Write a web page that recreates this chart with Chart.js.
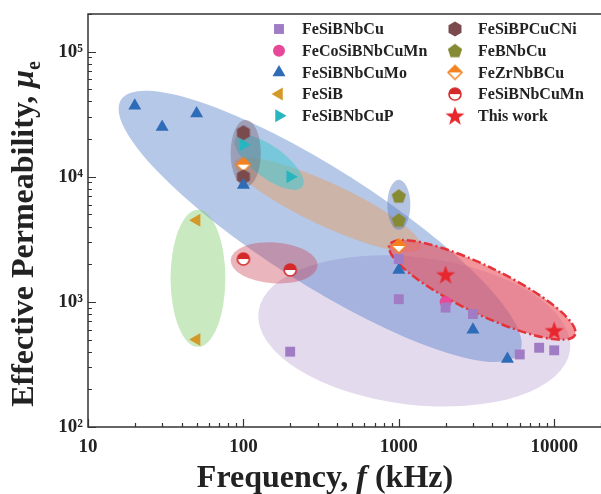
<!DOCTYPE html>
<html>
<head>
<meta charset="utf-8">
<script src="https://cdn.jsdelivr.net/npm/chart.js@4.4.0/dist/chart.umd.min.js"></script>
<style>
  html, body { margin: 0; padding: 0; background: #fff; }
  #wrap { width: 601px; height: 494px; }
</style>
</head>
<body>
<div id="wrap"><canvas id="chart" width="601" height="494"></canvas></div>
<script>
// --- data (frequency in kHz, effective permeability) ---
const seriesNames = ['FeSiBNbCu', 'FeCoSiBNbCuMn', 'FeSiBNbCuMo', 'FeSiB', 'FeSiBNbCuP',
  'FeSiBPCuCNi', 'FeBNbCu', 'FeZrNbBCu', 'FeSiBNbCuMn', 'This work'];

const freqFeSiBNbCu = [200, 1000, 1000, 2000, 3000, 6000, 8000, 10000];
const muFeSiBNbCu = [400, 1050, 2200, 900, 800, 380, 430, 410];
const freqFeCoSiBNbCuMn = [2000];
const muFeCoSiBNbCuMn = [1000];
const freqFeSiBNbCuMo = [20, 30, 50, 100, 1000, 3000, 5000];
const muFeSiBNbCuMo = [37000, 25000, 32000, 8600, 1800, 600, 350];
const freqFeSiB = [50, 50];
const muFeSiB = [4500, 500];
const freqFeSiBNbCuP = [100, 200];
const muFeSiBNbCuP = [18000, 10000];
const freqFeSiBPCuCNi = [100, 100];
const muFeSiBPCuCNi = [22500, 10000];
const freqFeBNbCu = [1000, 1000];
const muFeBNbCu = [7000, 4500];
const freqFeZrNbBCu = [100, 1000];
const muFeZrNbBCu = [12500, 2800];
const freqFeSiBNbCuMn = [100, 200];
const muFeSiBNbCuMn = [2200, 1800];
const freqThisWork = [2000, 10000];
const muThisWork = [1650, 590];

const xTicks = [10, 100, 1000, 10000];
const yTicks = [100, 1000, 10000, 100000];

// shaded regions: major-axis end points (kHz, mu) and relative thickness
const regionFrom = [[125, 832], [16.3, 41300], [51, 5445], [82.8, 2168], [87.9, 13180],
  [89.2, 20500], [103.5, 28600], [1000, 9465], [871, 2858]];
const regionTo = [[12650, 413], [5960, 391], [51, 437], [300, 1941], [1377, 2704],
  [240, 8318], [103.5, 8318], [1000, 3767], [13600, 545]];
const regionWidth = [0.47, 0.245, 0.4, 0.47, 0.21, 0.38, 0.45, 0.46, 0.23];

const regionFill = ['rgba(175,150,205,0.35)', 'rgba(80,125,200,0.42)', 'rgba(120,200,100,0.4)',
  'rgba(200,60,80,0.38)', 'rgba(225,160,105,0.5)', 'rgba(70,200,210,0.55)',
  'rgba(110,80,95,0.35)', 'rgba(90,125,190,0.45)', 'rgba(235,80,90,0.6)'];

const SERIF = "'Liberation Serif', 'Times New Roman', serif";
const INK = '#222';

// custom marker canvases
function makeMarker(size, draw) {
  const c = document.createElement('canvas');
  c.width = c.height = size;
  const g = c.getContext('2d');
  draw(g, size / 2);
  return c;
}
function polyPath(g, cx, cy, r, n, rot) {
  g.beginPath();
  for (let i = 0; i < n; i++) {
    const a = rot + i * 2 * Math.PI / n;
    const px = cx + r * Math.cos(a), py = cy + r * Math.sin(a);
    i ? g.lineTo(px, py) : g.moveTo(px, py);
  }
  g.closePath();
}
const hexMark = makeMarker(16, (g, c) => {
  polyPath(g, c, c, 7.5, 6, -Math.PI / 2);
  g.fillStyle = '#7b4a4d'; g.fill();
});
const pentMark = makeMarker(16, (g, c) => {
  polyPath(g, c, c + 0.5, 7.5, 5, -Math.PI / 2);
  g.fillStyle = '#868a33'; g.fill();
});
const halfDiamond = makeMarker(18, (g, c) => {
  const r = 7;
  g.beginPath(); g.moveTo(c, c - r); g.lineTo(c + r, c); g.lineTo(c - r, c); g.closePath();
  g.fillStyle = '#f5821f'; g.fill();
  g.beginPath(); g.moveTo(c - r, c); g.lineTo(c + r, c); g.lineTo(c, c + r); g.closePath();
  g.fillStyle = '#fff'; g.fill();
  g.beginPath(); g.moveTo(c, c - r); g.lineTo(c + r, c); g.lineTo(c, c + r); g.lineTo(c - r, c); g.closePath();
  g.strokeStyle = '#f5821f'; g.lineWidth = 1.5; g.stroke();
});
const halfCircle = makeMarker(16, (g, c) => {
  const r = 6;
  g.beginPath(); g.arc(c, c, r, 0, 2 * Math.PI); g.fillStyle = '#fff'; g.fill();
  g.beginPath(); g.arc(c, c, r, Math.PI, 2 * Math.PI); g.closePath();
  g.fillStyle = '#d42a2a'; g.fill();
  g.beginPath(); g.arc(c, c, r, 0, 2 * Math.PI);
  g.strokeStyle = '#d42a2a'; g.lineWidth = 1.6; g.stroke();
});
const starMark = makeMarker(22, (g, c) => {
  g.beginPath();
  for (let i = 0; i < 10; i++) {
    const r = i % 2 ? 4 : 10;
    const a = -Math.PI / 2 + i * Math.PI / 5;
    const px = c + r * Math.cos(a), py = c + 0.8 + r * Math.sin(a);
    i ? g.lineTo(px, py) : g.moveTo(px, py);
  }
  g.closePath();
  g.fillStyle = '#e8262d'; g.fill();
});

const markerStyles = [
  { pointStyle: 'rect', radius: 7, rotation: 0, color: '#a07cc4' },
  { pointStyle: 'circle', radius: 6, rotation: 0, color: '#e8489a' },
  { pointStyle: 'triangle', radius: 7.5, rotation: 0, color: '#2f6cb8' },
  { pointStyle: 'triangle', radius: 7.5, rotation: 270, color: '#d39a2a' },
  { pointStyle: 'triangle', radius: 7.5, rotation: 90, color: '#27b5bf' },
  { pointStyle: hexMark, radius: 8, rotation: 0, color: '#7b4a4d' },
  { pointStyle: pentMark, radius: 8, rotation: 0, color: '#868a33' },
  { pointStyle: halfDiamond, radius: 8, rotation: 0, color: '#f5821f' },
  { pointStyle: halfCircle, radius: 8, rotation: 0, color: '#d42a2a' },
  { pointStyle: starMark, radius: 10, rotation: 0, color: '#e8262d' }
];

const seriesFreq = [freqFeSiBNbCu, freqFeCoSiBNbCuMn, freqFeSiBNbCuMo, freqFeSiB, freqFeSiBNbCuP,
  freqFeSiBPCuCNi, freqFeBNbCu, freqFeZrNbBCu, freqFeSiBNbCuMn, freqThisWork];
const seriesMu = [muFeSiBNbCu, muFeCoSiBNbCuMn, muFeSiBNbCuMo, muFeSiB, muFeSiBNbCuP,
  muFeSiBPCuCNi, muFeBNbCu, muFeZrNbBCu, muFeSiBNbCuMn, muThisWork];

const datasets = seriesNames.map((name, i) => ({
  label: name,
  data: seriesFreq[i].map((f, j) => ({ x: f, y: seriesMu[i][j] })),
  pointStyle: markerStyles[i].pointStyle,
  pointRadius: markerStyles[i].radius,
  pointRotation: markerStyles[i].rotation,
  backgroundColor: markerStyles[i].color,
  borderColor: markerStyles[i].color,
  borderWidth: 0,
  showLine: false
}));

// shaded ellipses behind the markers
const regionsPlugin = {
  id: 'regions',
  beforeDatasetsDraw(chart) {
    const { ctx, chartArea: a, scales: { x, y } } = chart;
    ctx.save();
    ctx.beginPath();
    ctx.rect(a.left, a.top, a.right - a.left, a.bottom - a.top);
    ctx.clip();
    regionFrom.forEach((p, i) => {
      const x1 = x.getPixelForValue(p[0]), y1 = y.getPixelForValue(p[1]);
      const x2 = x.getPixelForValue(regionTo[i][0]), y2 = y.getPixelForValue(regionTo[i][1]);
      const cx = (x1 + x2) / 2, cy = (y1 + y2) / 2;
      const semi = Math.hypot(x2 - x1, y2 - y1) / 2;
      const ang = Math.atan2(y2 - y1, x2 - x1);
      ctx.beginPath();
      ctx.ellipse(cx, cy, semi, semi * regionWidth[i], ang, 0, 2 * Math.PI);
      ctx.fillStyle = regionFill[i];
      ctx.fill();
      if (i === regionFrom.length - 1) {
        ctx.setLineDash([9, 3, 2, 3]);
        ctx.lineWidth = 2.5;
        ctx.strokeStyle = '#e5333a';
        ctx.stroke();
        ctx.setLineDash([]);
      }
    });
    ctx.restore();
  }
};

// frame, inward ticks, legend and axis titles
const decorPlugin = {
  id: 'decor',
  afterDraw(chart) {
    const { ctx, chartArea: a, scales: { x, y } } = chart;
    ctx.save();
    ctx.strokeStyle = '#333';
    ctx.lineWidth = 1.5;
    ctx.strokeRect(a.left, a.top, a.right - a.left + 2, a.bottom - a.top);

    ctx.lineWidth = 1.2;
    ctx.beginPath();
    xTicks.forEach(d => {
      for (let k = 1; k <= 9; k++) {
        const v = d * k;
        if (v > x.max) break;
        const px = Math.round(x.getPixelForValue(v)) + 0.5;
        const len = k === 1 ? 8 : 4;
        ctx.moveTo(px, a.bottom); ctx.lineTo(px, a.bottom - len);
      }
    });
    yTicks.forEach(d => {
      for (let k = 1; k <= 9; k++) {
        const v = d * k;
        if (v > y.max) break;
        const py = Math.round(y.getPixelForValue(v)) + 0.5;
        const len = k === 1 ? 8 : 4;
        ctx.moveTo(a.left, py); ctx.lineTo(a.left + len, py);
      }
    });
    ctx.stroke();

    // legend, two columns
    ctx.font = 'bold 16px ' + SERIF;
    ctx.textBaseline = 'middle';
    ctx.fillStyle = INK;
    seriesNames.forEach((name, i) => {
      const col = Math.floor(i / 5), row = i % 5;
      const mx = col ? 455 : 279;
      const my = 29 + row * 21.7;
      const ms = markerStyles[i];
      ctx.fillStyle = ms.color;
      ctx.strokeStyle = ms.color;
      Chart.helpers.drawPoint(ctx, { pointStyle: ms.pointStyle, radius: ms.radius, rotation: ms.rotation, borderWidth: 0 }, mx, my);
      ctx.fillStyle = INK;
      ctx.fillText(name, mx + 23, my + 1);
    });

    // x title
    ctx.textBaseline = 'alphabetic';
    const bold = 'bold 32px ' + SERIF, ital = 'italic bold 32px ' + SERIF;
    const xParts = [['Frequency, ', bold], ['f', ital], [' (kHz)', bold]];
    let w = 0;
    xParts.forEach(p => { ctx.font = p[1]; w += ctx.measureText(p[0]).width; });
    let cx = 325 - w / 2;
    xParts.forEach(p => { ctx.font = p[1]; ctx.fillText(p[0], cx, 487); cx += ctx.measureText(p[0]).width; });

    // y title
    ctx.translate(33, 234);
    ctx.rotate(-Math.PI / 2);
    const sub = 'bold 20px ' + SERIF;
    const yParts = [['Effective Permeability, ', bold, 0], ['\u03bc', ital, 0], ['e', sub, 7]];
    w = 0;
    yParts.forEach(p => { ctx.font = p[1]; w += ctx.measureText(p[0]).width; });
    cx = -w / 2;
    yParts.forEach(p => { ctx.font = p[1]; ctx.fillText(p[0], cx, p[2]); cx += ctx.measureText(p[0]).width; });
    ctx.restore();
  }
};

const supers = { 2: '\u00b2', 3: '\u00b3', 4: '\u2074', 5: '\u2075' };

new Chart(document.getElementById('chart'), {
  type: 'scatter',
  data: { datasets },
  options: {
    responsive: false,
    animation: false,
    events: [],
    devicePixelRatio: 1,
    layout: { autoPadding: false, padding: { top: 14, left: 0, right: 0, bottom: 0 } },
    plugins: { legend: { display: false }, tooltip: { enabled: false } },
    scales: {
      x: {
        type: 'logarithmic',
        min: 10, max: 20000,
        grid: { display: false, drawTicks: false },
        border: { display: false },
        afterBuildTicks: s => { s.ticks = xTicks.map(v => ({ value: v })); },
        afterFit: s => { s.height = 494 - 427; s.paddingRight = 0; s.paddingLeft = 0; },
        ticks: {
          padding: 9,
          color: INK,
          font: { family: SERIF, size: 19, weight: 'bold' },
          maxRotation: 0,
          callback: v => String(v)
        }
      },
      y: {
        type: 'logarithmic',
        min: 100, max: 200000,
        grid: { display: false, drawTicks: false },
        border: { display: false },
        afterBuildTicks: s => { s.ticks = yTicks.map(v => ({ value: v })); },
        afterFit: s => { s.width = 88; s.paddingTop = 0; s.paddingBottom = 0; },
        ticks: {
          padding: 5,
          color: INK,
          font: { family: SERIF, size: 19, weight: 'bold' },
          callback: v => '10' + supers[Math.round(Math.log10(v))]
        }
      }
    }
  },
  plugins: [regionsPlugin, decorPlugin]
});
</script>
</body>
</html>
